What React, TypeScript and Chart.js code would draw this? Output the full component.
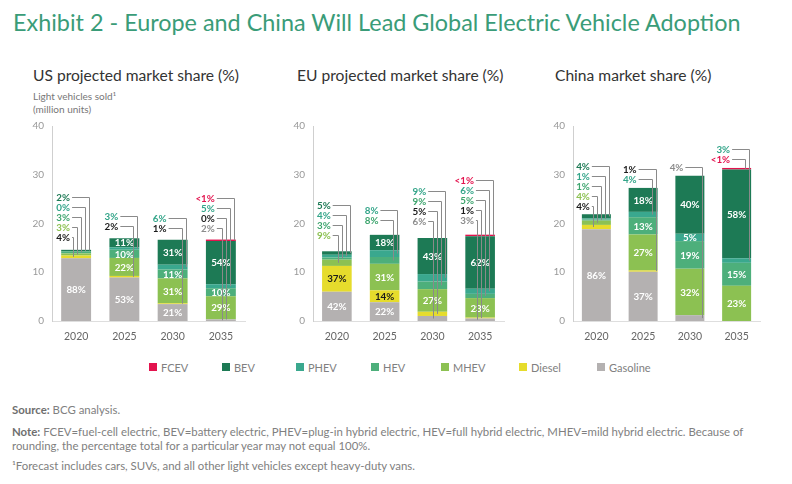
import React, { useEffect, useRef } from "react";
import { Chart, registerables } from "chart.js";

Chart.register(...registerables);

const FONT = "Lato, 'Open Sans', sans-serif";

// ---------- data ----------
const YEARS = ["2020", "2025", "2030", "2035"];
// stacking order bottom -> top
const SERIES = ["Gasoline", "Diesel", "MHEV", "HEV", "PHEV", "BEV", "FCEV"];
const LEGEND_ORDER = ["FCEV", "BEV", "PHEV", "HEV", "MHEV", "Diesel", "Gasoline"];

// total light vehicles sold (million units)
const US_TOTAL = [14.6, 16.8, 16.5, 16.4];
const EU_TOTAL = [14.3, 17.5, 17.2, 17.4];
const CN_TOTAL = [21.9, 27.3, 29.8, 31.4];

// market shares (%) — 0.5 stands for "<1%"
const US_GASOLINE = [88, 53, 21, 2];
const US_DIESEL = [4, 2, 1, 0];
const US_MHEV = [3, 22, 31, 29];
const US_HEV = [3, 10, 11, 10];
const US_PHEV = [0, 3, 6, 5];
const US_BEV = [2, 11, 31, 54];
const US_FCEV = [0, 0, 0, 0.5];

const EU_GASOLINE = [42, 22, 6, 3];
const EU_DIESEL = [37, 14, 5, 1];
const EU_MHEV = [9, 31, 27, 23];
const EU_HEV = [3, 8, 9, 5];
const EU_PHEV = [4, 8, 9, 6];
const EU_BEV = [5, 18, 43, 62];
const EU_FCEV = [0, 0, 0, 0.5];

const CN_GASOLINE = [86, 37, 4, 0];
const CN_DIESEL = [4, 1, 0, 0];
const CN_MHEV = [4, 27, 32, 23];
const CN_HEV = [1, 13, 19, 15];
const CN_PHEV = [1, 4, 5, 3];
const CN_BEV = [4, 18, 40, 58];
const CN_FCEV = [0, 0, 0, 0.5];

// labels drawn as call-outs above each bar (top to bottom)
const US_CALLOUTS = [
  ["BEV", "PHEV", "HEV", "MHEV", "Diesel"],
  ["PHEV", "Diesel"],
  ["PHEV", "Diesel"],
  ["FCEV", "PHEV", "Diesel", "Gasoline"],
];
const EU_CALLOUTS = [
  ["BEV", "PHEV", "HEV", "MHEV"],
  ["PHEV", "HEV"],
  ["PHEV", "HEV", "Diesel", "Gasoline"],
  ["FCEV", "PHEV", "HEV", "Diesel", "Gasoline"],
];
const CN_CALLOUTS = [
  ["BEV", "PHEV", "HEV", "MHEV", "Diesel"],
  ["Diesel", "PHEV"],
  ["Gasoline"],
  ["PHEV", "FCEV"],
];

const Y_TICKS = [0, 10, 20, 30, 40];

// ---------- styles ----------
const FILL: Record<string, string> = {
  Gasoline: "#b4b1b1",
  Diesel: "#e6dc2c",
  MHEV: "#8cc152",
  HEV: "#4daf7b",
  PHEV: "#3aa88e",
  BEV: "#1d7a55",
  FCEV: "#e3134e",
};
const TEXT: Record<string, string> = {
  Gasoline: "#8c8c8c",
  Diesel: "#1a1a1a",
  MHEV: "#8cc152",
  HEV: "#3ea56e",
  PHEV: "#33a589",
  BEV: "#1d7a55",
  FCEV: "#e3134e",
};

type PanelCfg = {
  total: number[];
  shares: number[][];
  callouts: string[][];
  gap: number;
};

const PANELS: Record<string, PanelCfg> = {
  us: {
    total: US_TOTAL,
    shares: [US_GASOLINE, US_DIESEL, US_MHEV, US_HEV, US_PHEV, US_BEV, US_FCEV],
    callouts: US_CALLOUTS,
    gap: 13,
  },
  eu: {
    total: EU_TOTAL,
    shares: [EU_GASOLINE, EU_DIESEL, EU_MHEV, EU_HEV, EU_PHEV, EU_BEV, EU_FCEV],
    callouts: EU_CALLOUTS,
    gap: 16,
  },
  cn: {
    total: CN_TOTAL,
    shares: [CN_GASOLINE, CN_DIESEL, CN_MHEV, CN_HEV, CN_PHEV, CN_BEV, CN_FCEV],
    callouts: CN_CALLOUTS,
    gap: 8.5,
  },
};

const fmt = (v: number) => (v > 0 && v < 1 ? "<1%" : `${v}%`);

const calloutPlugin = {
  id: "callouts",
  afterDatasetsDraw(chart: any, _args: any, opts: any) {
    const cfg: PanelCfg = opts.cfg;
    if (!cfg) return;
    const { ctx } = chart;
    const ys = chart.scales.y;
    ctx.save();
    ctx.font = `bold 9.8px ${FONT}`;
    ctx.textBaseline = "middle";

    for (let i = 0; i < YEARS.length; i++) {
      // bar geometry
      let bx = NaN;
      let bw = NaN;
      for (let d = 0; d < SERIES.length; d++) {
        const el = chart.getDatasetMeta(d).data[i];
        if (el && isFinite(el.x) && isFinite(el.width) && el.width > 0) {
          bx = el.x;
          bw = el.width;
          break;
        }
      }
      if (!isFinite(bx)) continue;
      const barRight = bx + bw / 2;
      const list = cfg.callouts[i];

      // inside labels
      ctx.textAlign = "center";
      for (let d = 0; d < SERIES.length; d++) {
        const name = SERIES[d];
        const share = cfg.shares[d][i];
        if (!(share > 0) || list.includes(name)) continue;
        const el = chart.getDatasetMeta(d).data[i];
        if (!el) continue;
        const cy = (el.y + el.base) / 2;
        ctx.fillStyle = name === "Diesel" ? "#1a1a1a" : "#ffffff";
        ctx.fillText(fmt(share), bx, cy + 0.5);
      }

      // call-outs
      const n = list.length;
      const topY = ys.getPixelForValue(cfg.total[i]);
      const textRight = barRight - 21;
      for (let k = 0; k < n; k++) {
        const name = list[k];
        const d = SERIES.indexOf(name);
        const share = cfg.shares[d][i];
        const rowY = Math.round(topY - cfg.gap - (n - 1 - k) * 10) + 0.5;
        const vx = Math.round(barRight - 2 - k * 4) + 0.5;
        // target y = middle of the segment
        let cum = 0;
        for (let j = 0; j < d; j++) cum += (cfg.total[i] * cfg.shares[j][i]) / 100;
        const seg = (cfg.total[i] * share) / 100;
        let ty = ys.getPixelForValue(cum + seg / 2);
        const el = chart.getDatasetMeta(d).data[i];
        if (share > 0 && el && isFinite(el.y) && isFinite(el.base)) ty = (el.y + el.base) / 2;

        ctx.strokeStyle = "#8a8a8a";
        ctx.lineWidth = 1;
        ctx.beginPath();
        ctx.moveTo(textRight + 2, rowY);
        ctx.lineTo(vx, rowY);
        ctx.lineTo(vx, ty);
        ctx.stroke();

        ctx.textAlign = "right";
        ctx.fillStyle = TEXT[name];
        ctx.fillText(fmt(share), textRight, rowY);
      }
    }
    ctx.restore();
  },
};

function Panel({ id, left, top, width, height }: { id: string; left: number; top: number; width: number; height: number }) {
  const ref = useRef<HTMLCanvasElement>(null);
  useEffect(() => {
    const cfg = PANELS[id];
    const datasets = SERIES.map((name, d) => ({
      label: name,
      data: cfg.shares[d].map((s, i) => (s > 0 ? (cfg.total[i] * s) / 100 : null)),
      backgroundColor: FILL[name],
      borderWidth: 0,
      categoryPercentage: 0.62,
      barPercentage: 1,
      minBarLength: name === "FCEV" ? 1.5 : 0,
      stack: "s",
    }));
    const chart = new Chart(ref.current as HTMLCanvasElement, {
      type: "bar",
      data: { labels: YEARS, datasets },
      plugins: [calloutPlugin],
      options: {
        responsive: false,
        animation: false,
        devicePixelRatio: 1,
        layout: { padding: { top: 14, right: 10, left: 0, bottom: 0 } },
        plugins: {
          legend: { display: false },
          tooltip: { enabled: false },
          title: { display: false },
          callouts: { cfg },
        } as any,
        scales: {
          x: {
            stacked: true,
            grid: { display: false, drawTicks: false },
            border: { display: true, color: "#dedede" },
            ticks: { padding: 9, color: "#666", font: { size: 10.5, family: FONT } },
            afterFit: (s: any) => {
              s.height = 31;
            },
          },
          y: {
            stacked: true,
            min: 0,
            max: 40,
            afterBuildTicks: (s: any) => {
              s.ticks = Y_TICKS.map((v) => ({ value: v }));
            },
            grid: { display: false, drawTicks: false },
            border: { display: true, color: "#cfcfcf" },
            ticks: { padding: 8, color: "#999", font: { size: 10, family: FONT } },
            afterFit: (s: any) => {
              s.width = 32;
            },
          },
        },
      } as any,
    });
    return () => chart.destroy();
  }, [id]);
  return (
    <canvas
      ref={ref}
      width={width}
      height={height}
      style={{ position: "absolute", left, top, width, height }}
    />
  );
}

const panelTitle: React.CSSProperties = {
  position: "absolute",
  top: 66,
  fontSize: 15.6,
  lineHeight: "18px",
  color: "#333",
  whiteSpace: "nowrap",
};

const legendX = [149, 222, 296, 371, 441, 519, 597];

export default function App() {
  return (
    <div
      style={{
        position: "absolute",
        left: 0,
        top: 0,
        width: 792,
        height: 484,
        background: "#fff",
        fontFamily: FONT,
        overflow: "hidden",
      }}
    >
      <div
        style={{
          position: "absolute",
          left: 13,
          top: 8,
          fontSize: 23.4,
          lineHeight: "28px",
          color: "#3a9c78",
          whiteSpace: "nowrap",
        }}
      >
        Exhibit 2 - Europe and China Will Lead Global Electric Vehicle Adoption
      </div>

      <div style={{ ...panelTitle, left: 33 }}>US projected market share (%)</div>
      <div style={{ ...panelTitle, left: 297 }}>EU projected market share (%)</div>
      <div style={{ ...panelTitle, left: 555 }}>China market share (%)</div>

      <div
        style={{
          position: "absolute",
          left: 33,
          top: 90,
          fontSize: 10,
          lineHeight: "13px",
          color: "#777",
          whiteSpace: "nowrap",
        }}
      >
        Light vehicles sold¹
        <br />
        (million units)
      </div>

      <Panel id="us" left={20} top={112} width={235} height={240} />
      <Panel id="eu" left={281} top={112} width={233} height={240} />
      <Panel id="cn" left={541} top={112} width={229} height={240} />

      {LEGEND_ORDER.map((name, i) => (
        <div
          key={name}
          style={{
            position: "absolute",
            left: legendX[i],
            top: 360,
            height: 14,
            display: "flex",
            alignItems: "center",
            fontSize: 11,
            color: "#808080",
            whiteSpace: "nowrap",
          }}
        >
          <span style={{ display: "inline-block", width: 8, height: 8, background: FILL[name], marginRight: 4 }} />
          {name}
        </div>
      ))}

      <div
        style={{
          position: "absolute",
          left: 12,
          top: 403,
          fontSize: 11.4,
          lineHeight: "14px",
          color: "#808080",
          whiteSpace: "nowrap",
        }}
      >
        <div>
          <b style={{ color: "#6f6f6f" }}>Source:</b> BCG analysis.
        </div>
        <div style={{ marginTop: 8 }}>
          <b style={{ color: "#6f6f6f" }}>Note:</b> FCEV=fuel-cell electric, BEV=battery electric, PHEV=plug-in hybrid
          electric, HEV=full hybrid electric, MHEV=mild hybrid electric. Because of
          <br />
          rounding, the percentage total for a particular year may not equal 100%.
        </div>
        <div style={{ marginTop: 6 }}>¹Forecast includes cars, SUVs, and all other light vehicles except heavy-duty vans.</div>
      </div>
    </div>
  );
}
